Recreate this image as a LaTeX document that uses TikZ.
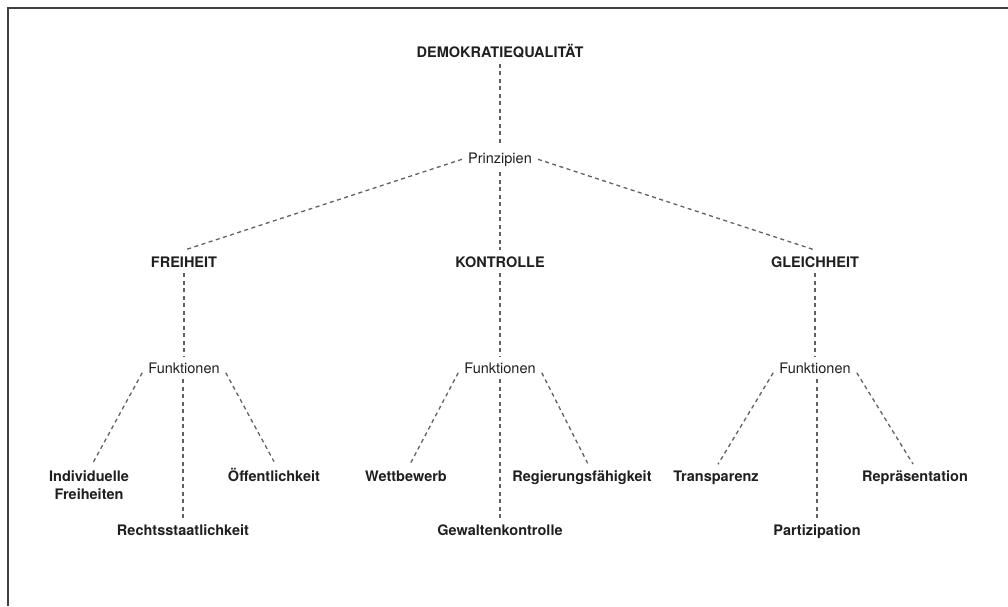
\documentclass[tikz,border=0pt]{standalone}
\usepackage{fontspec}
\setmainfont{TeX Gyre Heros}
\begin{document}
\begin{tikzpicture}[x=1pt,y=-1pt,
  lbl/.style={font=\fontsize{14.5}{18}\selectfont, text=black!88, inner sep=6pt, anchor=base},
  head/.style={lbl, font=\fontsize{14.5}{18}\selectfont\bfseries},
  conn/.style={draw=black!62, line width=1.3pt, dash pattern=on 4pt off 3.5pt},
  frame/.style={draw=black!75, line width=1.6pt}]
\useasboundingbox (0,0) rectangle (1008,606);
% open frame: top and left edges
\draw[frame] (8,606) -- (8,8) -- (1008,8);

% root and principles
\node[head] (demo) at (500,57) {DEMOKRATIEQUALITÄT};
\node[lbl]  (prz)  at (500,163) {Prinzipien};

\node[head] (frei)   at (184,267) {FREIHEIT};
\node[head] (kont)   at (500,267) {KONTROLLE};
\node[head] (gleich) at (815,267) {GLEICHHEIT};

\node[lbl] (fk1) at (184,373) {Funktionen};
\node[lbl] (fk2) at (500,373) {Funktionen};
\node[lbl] (fk3) at (815,373) {Funktionen};

% functions of freedom
\node[head, align=center, anchor=north] (indiv) at (89,464.6) {Individuelle\\Freiheiten};
\node[head] (oeff)   at (274,481) {Öffentlichkeit};
\node[head] (rechts) at (183,535) {Rechtsstaatlichkeit};

% functions of control
\node[head] (wett)   at (406,481) {Wettbewerb};
\node[head] (regier) at (582,481) {Regierungsfähigkeit};
\node[head] (gewalt) at (500,535) {Gewaltenkontrolle};

% functions of equality
\node[head] (transp) at (716,481) {Transparenz};
\node[head] (repr)   at (915,481) {Repräsentation};
\node[head] (partiz) at (817,535) {Partizipation};

% connectors
\draw[conn] (demo.south) -- (prz.north);
\draw[conn] (prz.west) -- (frei.north);
\draw[conn] (prz.east) -- (gleich.north);
\draw[conn] (prz.south) -- (prz.south |- kont.north);

\draw[conn] (frei.south) -- (frei.south |- fk1.north);
\draw[conn] (kont.south) -- (kont.south |- fk2.north);
\draw[conn] (gleich.south) -- (gleich.south |- fk3.north);

\draw[conn] ([yshift=-5pt]fk1.west) -- ([xshift=3pt]indiv.north);
\draw[conn] ([yshift=-5pt]fk1.east) -- (oeff.north);
\draw[conn] (rechts.north |- fk1.south) -- (rechts.north);

\draw[conn] ([yshift=-5pt]fk2.west) -- ([xshift=4pt]wett.north);
\draw[conn] ([yshift=-5pt]fk2.east) -- ([xshift=6pt]regier.north);
\draw[conn] (gewalt.north |- fk2.south) -- (gewalt.north);

\draw[conn] ([yshift=-5pt]fk3.west) -- ([xshift=2pt]transp.north);
\draw[conn] ([yshift=-5pt]fk3.east) -- ([xshift=-2pt]repr.north);
\draw[conn] (partiz.north |- fk3.south) -- (partiz.north);
\end{tikzpicture}
\end{document}
